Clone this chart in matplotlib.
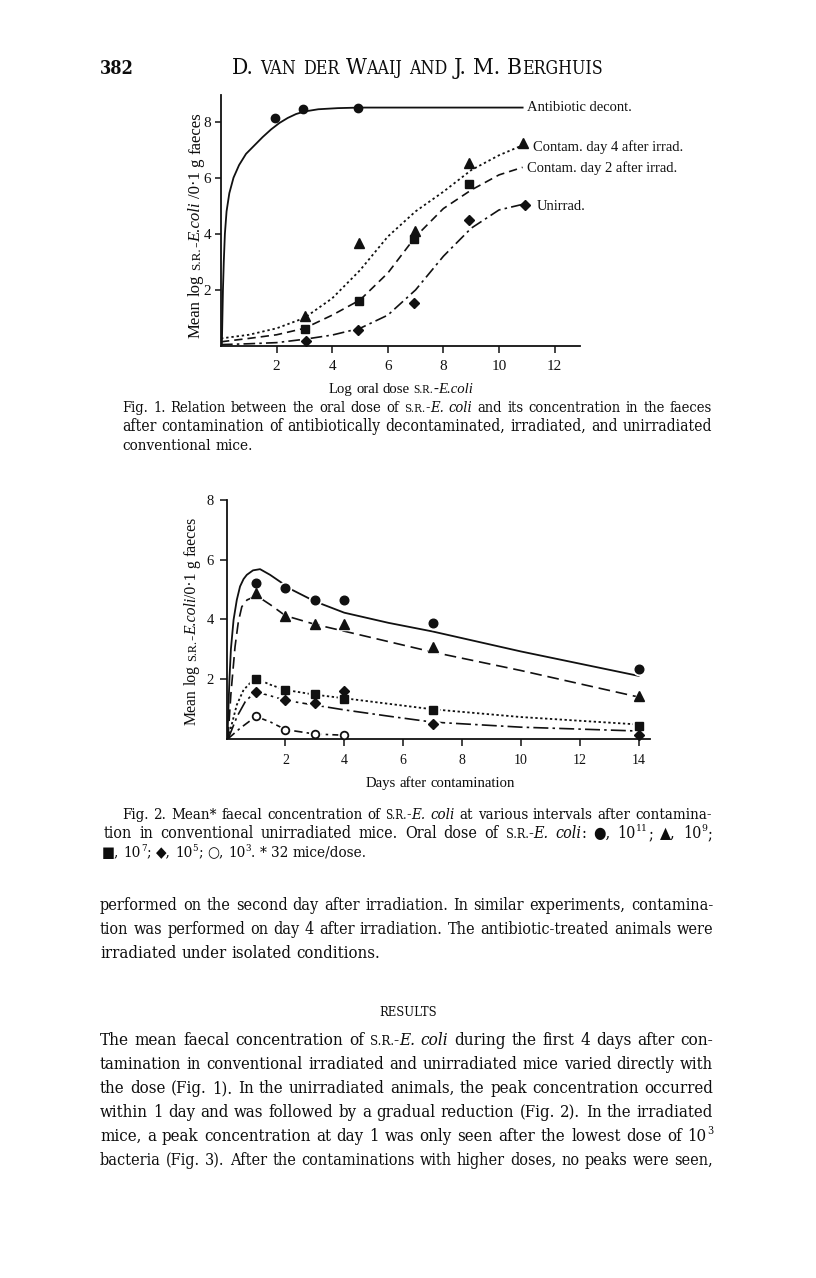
import re
import statistics
import matplotlib
matplotlib.use('Agg')
import matplotlib.pyplot as plt
from matplotlib.transforms import IdentityTransform
from matplotlib import font_manager as fm

# ---------------- data: Fig. 1 ----------------
fig1_dose_antibiotic = [1.94, 2.96, 4.94]
fig1_conc_antibiotic = [8.14, 8.44, 8.50]
fig1_dose_day4 = [3.02, 4.98, 6.98, 8.93, 10.88]
fig1_conc_day4 = [1.07, 3.68, 4.10, 6.51, 7.22]
fig1_dose_day2 = [3.02, 4.98, 6.96, 8.93]
fig1_conc_day2 = [0.59, 1.62, 3.80, 5.78]
fig1_dose_unirrad = [3.05, 4.94, 6.96, 8.92, 10.92]
fig1_conc_unirrad = [0.18, 0.57, 1.55, 4.49, 5.03]

# traced fitted curves, Fig. 1
fig1_curve_antibiotic_x = [0.03, 0.05, 0.07, 0.10, 0.14, 0.20, 0.30, 0.45, 0.65, 0.90, 1.20, 1.50, 1.80, 2.10, 2.40, 2.70, 3.00, 3.50, 4.20, 5.00, 10.85]
fig1_curve_antibiotic_y = [0.00, 1.00, 2.00, 3.00, 4.00, 4.80, 5.45, 6.00, 6.45, 6.85, 7.15, 7.45, 7.72, 7.95, 8.13, 8.27, 8.36, 8.44, 8.48, 8.50, 8.50]
fig1_curve_day4_x = [0, 1, 2, 3, 4, 5, 6, 7, 8, 9, 10, 10.88]
fig1_curve_day4_y = [0.27, 0.40, 0.63, 1.00, 1.70, 2.70, 3.90, 4.80, 5.50, 6.27, 6.80, 7.17]
fig1_curve_day2_x = [0, 1, 2, 3, 4, 5, 6, 7, 8, 9, 10, 10.85]
fig1_curve_day2_y = [0.15, 0.27, 0.40, 0.63, 1.10, 1.64, 2.60, 3.90, 4.90, 5.56, 6.10, 6.37]
fig1_curve_unirrad_x = [0, 1, 2, 3, 4, 5, 6, 7, 8, 9, 10, 10.85]
fig1_curve_unirrad_y = [0.05, 0.08, 0.12, 0.24, 0.39, 0.63, 1.10, 2.00, 3.20, 4.20, 4.85, 5.05]

fig1_series_labels = ["Antibiotic decont.", "Contam. day 4 after irrad.",
                      "Contam. day 2 after irrad.", "Unirrad."]
fig1_xticks = [2, 4, 6, 8, 10, 12]
fig1_yticks = [2, 4, 6, 8]

# ---------------- data: Fig. 2 ----------------
fig2_days = [1, 2, 3, 4, 7, 14]
fig2_conc_1e11 = [5.23, 5.04, 4.65, 4.65, 3.87, 2.34]
fig2_conc_1e9 = [4.89, 4.11, 3.83, 3.84, 3.08, 1.44]
fig2_conc_1e7 = [2.00, 1.63, 1.50, 1.32, 0.96, 0.42]
fig2_conc_1e5 = [1.56, 1.30, 1.18, 1.60, 0.49, 0.12]
fig2_days_1e3 = [1, 2, 3, 4]
fig2_conc_1e3 = [0.74, 0.30, 0.15, 0.11]

fig2_curve_1e11_x = [0.03, 0.10, 0.15, 0.24, 0.35, 0.46, 0.58, 0.69, 0.90, 1.14, 1.48, 1.82, 2.20, 3.0, 4.0, 5.5, 7.0, 10.0, 14.0]
fig2_curve_1e11_y = [0.00, 2.00, 3.00, 3.98, 4.65, 5.10, 5.35, 5.49, 5.64, 5.68, 5.49, 5.26, 5.00, 4.60, 4.22, 3.88, 3.59, 2.92, 2.10]
fig2_curve_1e9_x = [0.05, 0.15, 0.29, 0.40, 0.52, 0.70, 0.92, 1.10, 1.50, 2.0, 3.0, 4.0, 7.0, 10.0, 14.0]
fig2_curve_1e9_y = [0.00, 1.50, 3.08, 3.90, 4.42, 4.65, 4.74, 4.74, 4.48, 4.12, 3.83, 3.60, 2.90, 2.28, 1.39]
fig2_curve_1e7_x = [0.06, 0.19, 0.35, 0.58, 0.93, 1.10, 1.50, 2.0, 3.0, 4.0, 7.0, 10.0, 14.0]
fig2_curve_1e7_y = [0.00, 0.52, 1.13, 1.63, 1.99, 1.97, 1.80, 1.63, 1.47, 1.35, 0.98, 0.72, 0.47]
fig2_curve_1e5_x = [0.06, 0.36, 0.64, 0.98, 1.50, 2.0, 3.0, 4.0, 5.5, 7.0, 10.0, 14.0]
fig2_curve_1e5_y = [0.00, 0.74, 1.24, 1.57, 1.43, 1.28, 1.12, 0.96, 0.75, 0.55, 0.38, 0.25]
fig2_curve_1e3_x = [0.06, 0.47, 1.0, 1.5, 2.0, 3.0, 4.0]
fig2_curve_1e3_y = [0.00, 0.35, 0.74, 0.55, 0.30, 0.15, 0.11]

fig2_xticks = [2, 4, 6, 8, 10, 12, 14]
fig2_yticks = [2, 4, 6, 8]

# ---------------- page text ----------------
page_number = "382"
running_head = "D. {s:van} {s:der} W{s:aaij} {s:and} J. M. B{s:erghuis}"
fig1_ylabel = "Mean log {s:s.r.}-{i:E.coli} /0·1 g faeces"
fig1_xlabel = "Log oral dose {s:s.r.}-{i:E.coli}"
fig2_ylabel = "Mean log {s:s.r.}-{i:E.coli}/0·1 g faeces"
fig2_xlabel = "Days after contamination"
fig1_caption = [
    "Fig. 1. Relation between the oral dose of {s:s.r.}-{i:E. coli} and its concentration in the faeces",
    "after contamination of antibiotically decontaminated, irradiated, and unirradiated",
    "conventional mice.",
]
fig2_caption = [
    "Fig. 2. Mean* faecal concentration of {s:s.r.}-{i:E. coli} at various intervals after contamina-",
    "tion in conventional unirradiated mice. Oral dose of {s:s.r.}-{i:E. coli}: ●, 10^{11}; ▲, 10^{9};",
    "■, 10^{7}; ◆, 10^{5}; ○, 10^{3}. * 32 mice/dose.",
]
body_par1 = [
    "performed on the second day after irradiation. In similar experiments, contamina-",
    "tion was performed on day 4 after irradiation. The antibiotic-treated animals were",
    "irradiated under isolated conditions.",
]
heading = "{s:results}"
body_par2 = [
    "The mean faecal concentration of {s:s.r.}-{i:E. coli} during the first 4 days after con-",
    "tamination in conventional irradiated and unirradiated mice varied directly with",
    "the dose (Fig. 1). In the unirradiated animals, the peak concentration occurred",
    "within 1 day and was followed by a gradual reduction (Fig. 2). In the irradiated",
    "mice, a peak concentration at day 1 was only seen after the lowest dose of 10^{3}",
    "bacteria (Fig. 3). After the contaminations with higher doses, no peaks were seen,",
]

# ---------------- figure ----------------
W, H = 816, 1278
fig = plt.figure(figsize=(W / 100, H / 100), dpi=100)
fig.patch.set_facecolor('white')
R = fig.canvas.get_renderer()
ID = IdentityTransform()

CHART = ['Liberation Serif', 'DejaVu Serif']
PAGE = ['DejaVu Serif', 'DejaVu Sans']
HAS_COND = any(f.name == 'DejaVu Serif' and 'condensed' in f.fname.lower()
               for f in fm.fontManager.ttflist)
PAGE_STRETCH = 'condensed' if HAS_COND else 'normal'
SPACE_EM = {'Liberation Serif': 0.25, 'DejaVu Serif': 0.29 if HAS_COND else 0.318}
INK = '#0d0d0d'


def parse(line):
    segs = []
    pos = 0
    for m in re.finditer(r'\{([is]):([^}]*)\}|\^\{([^}]*)\}', line):
        if m.start() > pos:
            segs.append((line[pos:m.start()], 'n'))
        if m.group(1):
            segs.append((m.group(2), m.group(1)))
        else:
            segs.append((m.group(3), 'sup'))
        pos = m.end()
    if pos < len(line):
        segs.append((line[pos:], 'n'))
    words = [[]]
    for text, kind in segs:
        parts = text.split(' ')
        for k, p in enumerate(parts):
            if k > 0:
                words.append([])
            if p:
                words[-1].append((p, kind))
    return [w for w in words if w]


def props(kind, size, family, weight='normal'):
    d = dict(fontsize=size, family=family, weight=weight)
    if family is PAGE:
        d['stretch'] = PAGE_STRETCH
    rise = 0.0
    if kind == 'i':
        d['style'] = 'italic'
    elif kind == 's':
        d['fontsize'] = size * 0.78
    elif kind == 'sup':
        d['fontsize'] = size * 0.64
        rise = size * 0.42 * 100 / 72
    return d, rise


def stext(t, kind):
    return t.upper() if kind == 's' else t


_cache = {}


def measure(text, p):
    key = (text, tuple(sorted((k, str(v)) for k, v in p.items())))
    if key not in _cache:
        t = fig.text(0, 0, text, transform=ID, **p)
        _cache[key] = t.get_window_extent(R).width
        t.remove()
    return _cache[key]


def space_w(size, family, weight='normal'):
    return SPACE_EM.get(family[0], 0.3) * size * 100 / 72


def word_w(word, size, family, weight='normal'):
    return sum(measure(stext(t, k), props(k, size, family, weight)[0]) for t, k in word)


def line_natural(line, size, family, weight='normal', g=1.0):
    words = parse(line)
    return sum(word_w(w, size, family, weight) for w in words) + g * space_w(size, family, weight) * (len(words) - 1)


def draw_line(line, x0, y_base_px, size, family, width=None, align='left',
              weight='normal', color=INK):
    words = parse(line)
    ws = [word_w(w, size, family, weight) for w in words]
    sp = space_w(size, family, weight)
    if width is not None and len(words) > 1:
        gap = (width - sum(ws)) / (len(words) - 1)
    else:
        gap = sp
    total = sum(ws) + gap * (len(words) - 1)
    start = x0 - total / 2 if align == 'center' else x0
    pos = start
    for w in words:
        for t, k in w:
            p, rise = props(k, size, family, weight)
            tx = stext(t, k)
            fig.text(pos, H - y_base_px + rise, tx, transform=ID, ha='left',
                     va='baseline', color=color, **p)
            pos += measure(tx, p)
        pos += gap


def draw_vertical(line, x_base, y_center_px, size, family):
    words = parse(line)
    ws = [word_w(w, size, family) for w in words]
    sp = space_w(size, family)
    total = sum(ws) + sp * (len(words) - 1)
    pos = 0.0
    y_bottom = y_center_px + total / 2
    for w in words:
        for t, k in w:
            p, rise = props(k, size, family)
            tx = stext(t, k)
            fig.text(x_base, H - (y_bottom - pos), tx, transform=ID, rotation=90,
                     rotation_mode='anchor', ha='left', va='baseline', color=INK, **p)
            pos += measure(tx, p)
        pos += sp


def fit_size(lines, width, family, base=10.0, weight='normal'):
    nat = max(line_natural(l, base, family, weight) for l in lines)
    return base * width / nat


def block_sizes(items, family, base=10.0, spread=0.05, gfit=1.15, gmin=0.7):
    """items: list of (line, width or None). Per-line sizes close to a common size."""
    fits = []
    for line, wdt in items:
        if wdt is not None:
            fits.append(base * wdt / line_natural(line, base, family, g=gfit))
    m = statistics.median(fits)
    out = []
    for line, wdt in items:
        if wdt is None:
            out.append(m)
            continue
        s_fit = base * wdt / line_natural(line, base, family, g=gfit)
        s_max = base * wdt / line_natural(line, base, family, g=gmin)
        s = min(max(s_fit, m * (1 - spread)), m * (1 + spread), s_max)
        out.append(s)
    return out, m


def px_axes(left, top, right, bottom):
    return fig.add_axes([left / W, 1 - bottom / H, (right - left) / W, (bottom - top) / H])


k = '#111111'

# ---------------- Fig. 1 axes ----------------
ax1 = px_axes(221, 95, 580, 346)
ax1.set_xlim(0, (580 - 221) / 27.8)
ax1.set_ylim(0, (346 - 95) / 28.05)
ax1.plot(fig1_curve_antibiotic_x, fig1_curve_antibiotic_y, color=k, lw=1.3, ls='-')
ax1.plot(fig1_curve_day4_x, fig1_curve_day4_y, color=k, lw=1.3, ls=(0, (1.3, 1.6)))
ax1.plot(fig1_curve_day2_x, fig1_curve_day2_y, color=k, lw=1.2, ls=(0, (5, 3)))
ax1.plot(fig1_curve_unirrad_x, fig1_curve_unirrad_y, color=k, lw=1.2, ls=(0, (7, 2.5, 1.5, 2.5)))
ax1.plot(fig1_dose_antibiotic, fig1_conc_antibiotic, 'o', color=k, ms=6.0, zorder=5)
ax1.plot(fig1_dose_day4, fig1_conc_day4, '^', color=k, ms=6.5, zorder=5)
ax1.plot(fig1_dose_day2, fig1_conc_day2, 's', color=k, ms=5.2, zorder=5)
ax1.plot(fig1_dose_unirrad, fig1_conc_unirrad, 'D', color=k, ms=5.5, zorder=5)

lab_pos = [(11.0, 8.5), (11.22, 7.1), (11.0, 6.35), (11.37, 4.99)]
for (lx, ly), lab in zip(lab_pos, fig1_series_labels):
    ax1.text(lx, ly, lab, family=CHART, fontsize=10.5, va='center', ha='left', color=k, clip_on=False)

ax1.set_xticks(fig1_xticks)
ax1.set_yticks(fig1_yticks)
ax1.set_xticklabels([str(v) for v in fig1_xticks], family=CHART, fontsize=11)
ax1.set_yticklabels([str(v) for v in fig1_yticks], family=CHART, fontsize=11)
ax1.tick_params(axis='x', direction='out', length=5, width=1.1, pad=5, colors=k)
ax1.tick_params(axis='y', direction='out', length=4, width=1.1, pad=3, colors=k)
for s in ['top', 'right']:
    ax1.spines[s].set_visible(False)
for s in ['left', 'bottom']:
    ax1.spines[s].set_linewidth(1.3)
    ax1.spines[s].set_color(k)

s1 = fit_size([fig1_ylabel], 225, CHART)
draw_vertical(fig1_ylabel, 200, 225, s1, CHART)
s1x = fit_size([fig1_xlabel], 145, CHART)
draw_line(fig1_xlabel, 401, 393, s1x, CHART, align='center')

# ---------------- Fig. 2 axes ----------------
ax2 = px_axes(226.5, 500, 650, 738.5)
ax2.set_xlim(0, (650 - 226.5) / 29.44)
ax2.set_ylim(0, 8)
ax2.plot(fig2_curve_1e11_x, fig2_curve_1e11_y, color=k, lw=1.3, ls='-', zorder=2)
ax2.plot(fig2_curve_1e9_x, fig2_curve_1e9_y, color=k, lw=1.2, ls=(0, (7, 3.5)), zorder=2)
ax2.plot(fig2_curve_1e7_x, fig2_curve_1e7_y, color=k, lw=1.3, ls=(0, (1.3, 1.4)), zorder=2)
ax2.plot(fig2_curve_1e5_x, fig2_curve_1e5_y, color=k, lw=1.2, ls=(0, (9, 2.5, 1.5, 2.5)), zorder=2)
ax2.plot(fig2_curve_1e3_x, fig2_curve_1e3_y, color=k, lw=1.2, ls=(0, (5, 2.5, 1.5, 2.5)), zorder=2)
series2 = [(fig2_days, fig2_conc_1e11, 'o', 6.2), (fig2_days, fig2_conc_1e9, '^', 6.5),
           (fig2_days, fig2_conc_1e7, 's', 5.4), (fig2_days, fig2_conc_1e5, 'D', 5.5)]
for xs, ys_, mk, ms in series2:
    ax2.plot(xs, ys_, mk, color='white', ms=ms + 2.6, zorder=2.2, clip_on=True)
    ax2.plot(xs, ys_, mk, color=k, ms=ms, zorder=5, clip_on=False)
ax2.plot(fig2_days_1e3, fig2_conc_1e3, 'o', color='white', ms=8, zorder=2.2, clip_on=True)
ax2.plot(fig2_days_1e3, fig2_conc_1e3, 'o', mfc='white', mec=k, mew=1.3, ms=5.5, zorder=5, clip_on=False)
ax2.set_xticks(fig2_xticks)
ax2.set_yticks(fig2_yticks)
ax2.set_xticklabels([str(v) for v in fig2_xticks], family=CHART, fontsize=10)
ax2.set_yticklabels([str(v) for v in fig2_yticks], family=CHART, fontsize=10.5)
ax2.tick_params(axis='x', direction='out', length=5, width=1.1, pad=6, colors=k)
ax2.tick_params(axis='y', direction='out', length=5, width=1.1, pad=4, colors=k)
for s in ['top', 'right']:
    ax2.spines[s].set_visible(False)
for s in ['left', 'bottom']:
    ax2.spines[s].set_linewidth(1.3)
    ax2.spines[s].set_color(k)
    ax2.spines[s].set_zorder(3)

s2 = fit_size([fig2_ylabel], 208, CHART)
draw_vertical(fig2_ylabel, 196, 621, s2, CHART)
s2x = fit_size([fig2_xlabel], 150, CHART)
draw_line(fig2_xlabel, 440, 787, s2x, CHART, align='center')

# ---------------- page text ----------------
draw_line(page_number, 100, 74, 13, PAGE, weight='bold')
hs = fit_size([running_head], 371, PAGE, 12)
draw_line(running_head, 232, 74, hs, PAGE)

cap_items = [(fig1_caption[0], 590), (fig1_caption[1], 590), (fig1_caption[2], None),
             (fig2_caption[0], 590), (fig2_caption[1], 608), (fig2_caption[2], None)]
cap_sizes, _ = block_sizes(cap_items, PAGE)
cap_pos = [(122, 412), (122, 431), (122, 450), (122, 819), (104, 838), (102, 857)]
for (line, wdt), sz, (x0, yb) in zip(cap_items, cap_sizes, cap_pos):
    draw_line(line, x0, yb, sz, PAGE, width=wdt)

body_items = [(body_par1[0], 613), (body_par1[1], 613), (body_par1[2], None)] + \
             [(l, 613) for l in body_par2]
body_sizes, body_m = block_sizes(body_items, PAGE)
body_y = [910, 934, 958] + [1045 + 24 * i for i in range(len(body_par2))]
for (line, wdt), sz, yb in zip(body_items, body_sizes, body_y):
    draw_line(line, 100, yb, sz, PAGE, width=wdt)
draw_line(heading, 408, 1016, body_m, PAGE, align='center')

fig.savefig('out.png', dpi=100, facecolor='white')
